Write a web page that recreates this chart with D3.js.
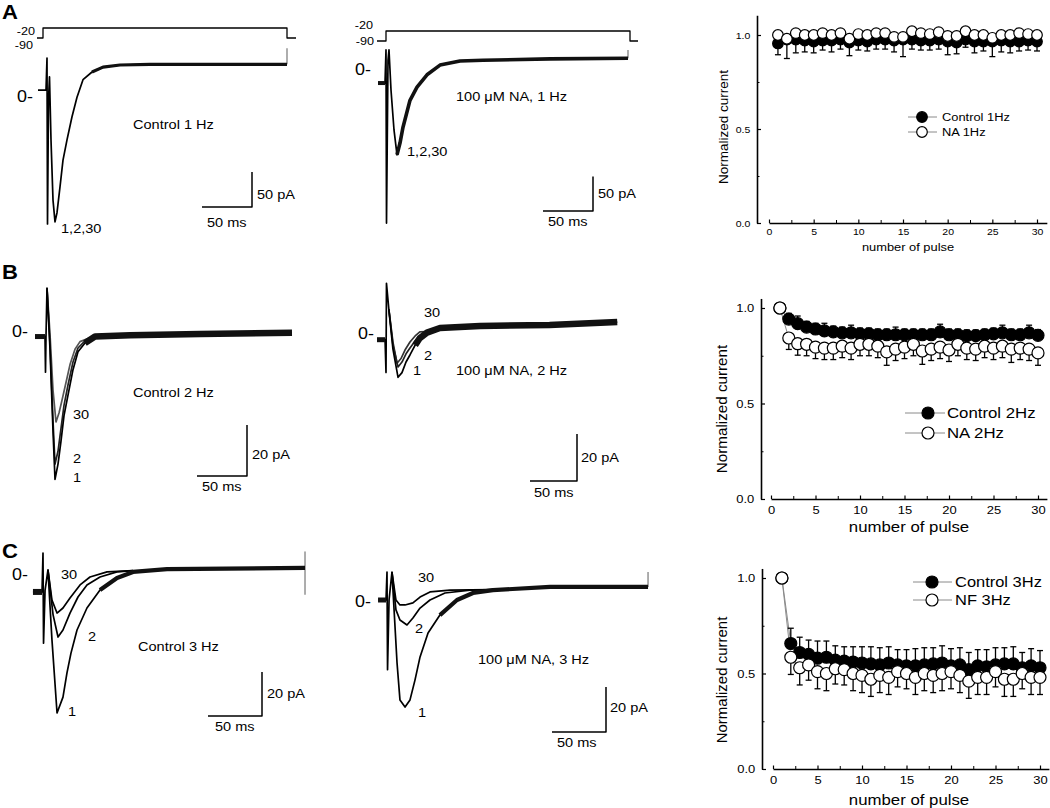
<!DOCTYPE html>
<html><head><meta charset="utf-8">
<script src="https://cdn.jsdelivr.net/npm/d3@7/dist/d3.min.js"></script>
<style>
body{margin:0;background:#fff}
svg{display:block}
text{font-family:"Liberation Sans",Arial,Helvetica,sans-serif;fill:#000}
</style>
</head><body>
<svg id="c" width="1050" height="808"></svg>
<script>
// ---------------- DATA ----------------
const pulses = [1,2,3,4,5,6,7,8,9,10,11,12,13,14,15,16,17,18,19,20,21,22,23,24,25,26,27,28,29,30];
const xTicks = [0,5,10,15,20,25,30];
const yTicks = [0,0.5,1];

const ctrl1Hz    = [0.955,0.975,0.975,0.97,0.965,0.97,0.97,0.975,0.96,0.97,0.965,0.975,0.975,0.97,0.975,0.975,0.97,0.97,0.975,0.965,0.96,0.975,0.965,0.965,0.965,0.97,0.965,0.965,0.97,0.965];
const ctrl1HzErr = [0.06,0.1,0.07,0.06,0.06,0.05,0.06,0.05,0.07,0.05,0.05,0.05,0.05,0.06,0.09,0.05,0.05,0.05,0.05,0.07,0.06,0.04,0.06,0.05,0.08,0.06,0.06,0.05,0.05,0.05];
const na1Hz      = [1.0,0.98,1.01,1.0,1.0,1.01,1.0,1.01,0.98,1.005,1.0,1.01,1.01,0.99,0.99,1.02,1.01,1.005,1.015,0.995,0.995,1.02,1.0,1.0,0.985,1.0,1.0,1.01,1.005,1.0];
const na1HzErr   = [0.01,0.02,0.01,0.01,0.01,0.01,0.01,0.01,0.02,0.01,0.01,0.01,0.01,0.02,0.02,0.01,0.01,0.01,0.01,0.02,0.01,0.01,0.01,0.01,0.02,0.01,0.01,0.01,0.01,0.01];

const ctrl2Hz    = [1.0,0.942,0.918,0.90,0.89,0.88,0.875,0.87,0.87,0.865,0.865,0.86,0.86,0.86,0.86,0.86,0.86,0.86,0.875,0.86,0.86,0.855,0.855,0.86,0.865,0.87,0.86,0.86,0.87,0.857];
const ctrl2HzErr = [0,0.03,0.04,0.03,0.03,0.04,0.03,0.03,0.04,0.03,0.03,0.03,0.03,0.04,0.03,0.03,0.03,0.03,0.04,0.03,0.03,0.03,0.03,0.03,0.03,0.04,0.03,0.03,0.04,0.03];
const na2Hz      = [1.0,0.843,0.813,0.81,0.795,0.79,0.79,0.80,0.79,0.81,0.81,0.80,0.77,0.785,0.795,0.81,0.775,0.785,0.795,0.78,0.81,0.79,0.785,0.80,0.79,0.80,0.785,0.79,0.785,0.765];
const na2HzErr   = [0,0.06,0.06,0.06,0.06,0.06,0.06,0.06,0.06,0.06,0.06,0.06,0.07,0.06,0.06,0.06,0.07,0.06,0.06,0.06,0.06,0.06,0.06,0.06,0.06,0.06,0.07,0.06,0.06,0.065];

const ctrl3Hz    = [1.0,0.657,0.61,0.60,0.58,0.585,0.57,0.565,0.56,0.555,0.55,0.545,0.555,0.545,0.54,0.54,0.545,0.55,0.555,0.54,0.545,0.52,0.54,0.535,0.545,0.55,0.55,0.53,0.54,0.53];
const ctrl3HzErr = [0,0.08,0.08,0.075,0.09,0.085,0.075,0.075,0.08,0.085,0.09,0.09,0.085,0.08,0.085,0.09,0.09,0.085,0.09,0.09,0.09,0.09,0.085,0.09,0.09,0.085,0.09,0.08,0.09,0.09];
const nf3Hz      = [1.0,0.585,0.53,0.545,0.51,0.50,0.525,0.52,0.50,0.49,0.47,0.49,0.48,0.51,0.50,0.48,0.50,0.49,0.50,0.51,0.49,0.46,0.48,0.48,0.51,0.47,0.47,0.50,0.48,0.48];
const nf3HzErr   = [0,0.09,0.09,0.08,0.09,0.09,0.08,0.08,0.09,0.09,0.09,0.09,0.09,0.08,0.08,0.09,0.09,0.09,0.09,0.09,0.09,0.09,0.09,0.09,0.08,0.09,0.09,0.08,0.09,0.09];

// current traces: [time ms, current pA]
const traceA1 = [[-5,4],[3,4],[4,50],[4.5,-187],[5.5,-10],[6.5,23],[8,-67],[10,-153],[12,-184],[14,-171],[17,-134],[20,-96],[24,-67],[29,-34],[34,-6],[40,19],[49,30],[60,37],[77,40],[107,41],[157,41],[200,41],[244,41],[244,64]];
const traceA2 = [[-8,-16],[-1,-16],[0,32],[0.5,-219],[2,17],[3,32],[5,-26],[8,-84],[11,-120],[14,-103],[17,-80],[24,-41],[31,-22],[41,-4],[54,10],[74,16],[97,17],[164,19],[242,20],[242,32]];
const traceB1_1  = [[-11,-1],[-1,-1],[-0.5,-15],[0,-1],[1,18],[4,-6],[7,-38],[9,-57],[12,-51],[15,-42],[18,-32],[22,-24],[27,-14],[32,-7],[39,-3.5],[49,-1],[84,-0.5],[154,0],[246,0.5]];
const traceB1_2  = [[1,18],[4,-4],[7,-34],[9,-51],[12,-46],[15,-37],[18,-28],[22,-20],[27,-11],[32,-5.5],[39,-2.7],[49,-1],[84,-0.5]];
const traceB1_30 = [[1,18],[4,0],[7,-22],[10,-34.5],[13,-31],[16,-26],[20,-19],[24,-12],[29,-6],[34,-3],[44,-1.5],[84,-0.5]];
const traceB2_1  = [[-9.6,-2],[-1,-2],[0,-16],[0.5,22],[3,11],[7.4,-6],[12.8,-18],[17,-16],[21.3,-11.5],[25.5,-8.5],[31,-4.3],[36,-1.3],[43.6,1],[57.4,3],[100,3.8],[174,4.3],[246,5.5]];
const traceB2_2  = [[3,11],[7.4,-4.3],[12.8,-13.6],[17,-11.5],[21.3,-8],[25.5,-5.5],[31,-2.6],[36,-0.4],[43.6,1]];
const traceB2_30 = [[3,11],[7.4,-3],[11.7,-12],[16,-10],[20.2,-6.4],[25.5,-3],[31,-0.4],[36,1.3],[43.6,1.5]];
const traceC1_1  = [[-9.3,-7.7],[-0.9,-7.7],[0,10],[0.5,-31],[1.9,-7],[4.6,2.3],[8.3,-29.5],[13,-62.7],[18.5,-55.5],[22.2,-44.5],[25.9,-35.5],[31.5,-25],[40.7,-15],[52.8,-6.8],[68.5,-1.4],[83.3,1.4],[114.8,2.7],[242.6,3.2],[242.6,10.5],[242.6,-9]];
const traceC1_2  = [[4.6,2.3],[9.3,-18],[13.9,-28.2],[18.5,-25],[25,-17.3],[32.4,-10],[40.7,-4.5],[52.8,-0.9],[68.5,1.4],[83.3,2]];
const traceC1_30 = [[4.6,2.3],[8.3,-11.4],[13,-17.3],[18.5,-15],[25,-10.5],[34.3,-4.5],[43.5,-0.9],[59.3,1.4],[83.3,2]];
const traceC2_1  = [[-8.3,0],[-0.9,0],[0,12.4],[0.5,-31],[1.9,0],[4.6,12.4],[9.3,-28],[12,-44.4],[16.7,-47.6],[21.3,-44.4],[25.9,-35.6],[30.6,-25.3],[38,-14.7],[49,-6.7],[64.8,0],[79.6,3.1],[98,4.4],[151,5.8],[241.7,5.8],[241.7,12.4]];
const traceC2_2  = [[4.6,12.4],[8.3,-4.4],[12,-8.9],[18.5,-11.1],[24,-8],[30.6,-3.6],[39.8,0],[53.7,3.1],[76.9,4.4],[98,4.6]];
const traceC2_30 = [[4.6,12.4],[8.3,0],[12,-2.2],[16.7,-2.2],[24,-1.3],[30.6,1.3],[39.8,3.6],[58.3,4.4],[98,4.6]];

// voltage protocols: [time ms, mV]
const protoA1 = [[-6,-90],[0,-90],[0,-20],[244,-20],[244,-90],[253,-90]];
const protoA2 = [[-9,-90],[0,-90],[0,-20],[244,-20],[244,-90],[252,-90]];

// ---------------- DRAWING ----------------
const SX = 1.12;
const svg = d3.select('#c');

function label(x, y, s, size, opt = {}) {
  return svg.append('text')
    .attr('transform', `translate(${x},${y}) scale(${opt.sx ?? SX},1)` + (opt.rot ? ` rotate(${opt.rot})` : ''))
    .attr('font-size', size)
    .attr('text-anchor', opt.anchor || 'start')
    .attr('dominant-baseline', opt.base || 'central')
    .attr('font-weight', opt.weight || 'normal')
    .text(s);
}

label(2, 19, 'A', 21, {weight: 'bold', base: 'auto', sx: 1.05});
label(2, 279, 'B', 21, {weight: 'bold', base: 'auto', sx: 1.05});
label(2, 558, 'C', 21, {weight: 'bold', base: 'auto', sx: 1.05});

const tracePanels = [
  {sweeps: [[traceA1, '#000']], x0: 43, y0: 93, kx: 1, ky: 0.7, tPlat: 45, band: 3.2, pre: 3,
   proto: protoA1, vRange: [38, 28], vLab: [[35, 31, '-20'], [33, 45, '-90']],
   bar: [252, 207, 50], zero: [17, 97],
   texts: [[133, 125, 'Control 1 Hz'], [61, 229, '1,2,30'], [257, 195, '50 pA'], [207, 223, '50 ms']]},
  {sweeps: [[traceA2, '#000']], x0: 386, y0: 72, kx: 1, ky: 0.69, tPlat: 11, band: 3.6, pre: 4,
   proto: protoA2, vRange: [41, 31], vLab: [[373, 25, '-20'], [374, 41, '-90']],
   bar: [593, 211, 50], zero: [355, 70],
   texts: [[456, 97, '100 \u03BCM NA, 1 Hz'], [407, 152, '1,2,30'], [598, 194, '50 pA'], [548, 222, '50 ms']]},
  {sweeps: [[traceB1_30, '#555'], [traceB1_2, '#222'], [traceB1_1, '#000']], x0: 46, y0: 334, kx: 1, ky: 2.55, tPlat: 39, band: 6.5, pre: 5,
   bar: [247, 476, 20], zero: [12, 332],
   texts: [[133, 393, 'Control 2 Hz'], [73, 415, '30'], [73, 459, '2'], [73, 478, '1'], [252, 455, '20 pA'], [202, 487, '50 ms']]},
  {sweeps: [[traceB2_30, '#333'], [traceB2_2, '#222'], [traceB2_1, '#000']], x0: 386, y0: 335, kx: 0.94, ky: 2.35, tPlat: 31, band: 6.5, pre: 5,
   bar: [577, 481, 20], zero: [358, 334],
   texts: [[456, 371, '100 \u03BCM NA, 2 Hz'], [424, 313, '30'], [424, 356, '2'], [413, 371, '1'], [581, 458, '20 pA'], [534, 493, '50 ms']]},
  {sweeps: [[traceC1_30, '#000'], [traceC1_2, '#000'], [traceC1_1, '#000']], x0: 43, y0: 575, kx: 1.08, ky: 2.2, tPlat: 52, band: 4.2, pre: 6,
   bar: [262, 716, 20], zero: [12, 575],
   texts: [[138, 647, 'Control 3 Hz'], [61, 575, '30'], [88, 637, '2'], [68, 712, '1'], [267, 694, '20 pA'], [215, 727, '50 ms']]},
  {sweeps: [[traceC2_30, '#000'], [traceC2_2, '#000'], [traceC2_1, '#000']], x0: 387, y0: 600, kx: 1.08, ky: 2.25, tPlat: 49, band: 4.2, pre: 5,
   bar: [606, 732, 20], zero: [355, 602],
   texts: [[478, 660, '100 \u03BCM NA, 3 Hz'], [418, 578, '30'], [415, 629, '2'], [418, 713, '1'], [610, 708, '20 pA'], [557, 743, '50 ms']]}
];

tracePanels.forEach(p => {
  const x = d3.scaleLinear().domain([0, 1]).range([p.x0, p.x0 + p.kx]);
  const y = d3.scaleLinear().domain([0, 1]).range([p.y0, p.y0 - p.ky]);
  const line = d3.line().x(d => x(d[0])).y(d => y(d[1]));
  const g = svg.append('g').attr('fill', 'none').attr('stroke-linejoin', 'round');

  if (p.proto) {
    const vy = d3.scaleLinear().domain([-90, -20]).range(p.vRange);
    g.append('path').datum(p.proto)
      .attr('d', d3.line().x(d => x(d[0])).y(d => vy(d[1])))
      .attr('stroke', '#000').attr('stroke-width', 1.3);
    p.vLab.forEach(v => label(v[0], v[1], v[2], 11.3, {anchor: 'end'}));
  }

  const main = p.sweeps[p.sweeps.length - 1][0];
  const tMax = d3.max(main, d => d[0]);
  const iEnd = main.findIndex(d => d[0] === tMax);
  const iStart = main.findIndex(d => d[0] >= p.tPlat);

  // end-of-pulse artefact (thin grey)
  g.append('path').datum(main.slice(iEnd)).attr('d', line)
    .attr('stroke', '#777').attr('stroke-width', 1.2);

  p.sweeps.forEach(([data, col], k) => {
    const d = (k === p.sweeps.length - 1) ? main.slice(0, iEnd + 1) : data;
    g.append('path').datum(d).attr('d', line)
      .attr('stroke', col).attr('stroke-width', 1.7);
  });
  // noisy plateau band & noisy pre-pulse baseline
  g.append('path').datum(main.slice(iStart, iEnd + 1))
    .attr('d', line).attr('stroke', '#111').attr('stroke-width', p.band);
  g.append('path').datum(main.filter(d => d[0] < -0.8))
    .attr('d', line).attr('stroke', '#111').attr('stroke-width', p.pre);

  // scale bar
  const [bx, by, pA] = p.bar;
  const w = x(50) - x(0), h = y(0) - y(pA);
  g.append('path').attr('d', `M${bx - w},${by}H${bx}V${by - h}`)
    .attr('stroke', '#000').attr('stroke-width', 1.5);

  label(p.zero[0], p.zero[1], '0-', 16);
  p.texts.forEach(t => label(t[0], t[1], t[2], 13));
});

// ---------------- rate plots ----------------
const ratePlots = [
  {ax: 757, x0: 769, x30: 1037, xEnd: 31.1, yb: 223, y1: 35, ytop: 1.105, r: 5.3, tick: 9.4, xPad: 5,
   xt: 11.5, yt: 13.5, lg: 11.5, xTitle: [908, 247], yTitle: [723, 127],
   legend: {x1: 908, x2: 937, xm: 922, xt: 942, y: [117, 132]},
   s1: [ctrl1Hz, ctrl1HzErr, 'Control 1Hz', 'down'], s2: [na1Hz, na1HzErr, 'NA 1Hz', 'up']},
  {ax: 761, x0: 771, x30: 1038, xEnd: 31.0, yb: 499, y1: 308, ytop: 1.05, r: 6, tick: 11.6, xPad: 6.5,
   xt: 15, yt: 15.2, lg: 15, xTitle: [909, 527], yTitle: [721, 409],
   legend: {x1: 905, x2: 945, xm: 928, xt: 947, y: [413, 433]},
   s1: [ctrl2Hz, ctrl2HzErr, 'Control 2Hz', 'up'], s2: [na2Hz, na2HzErr, 'NA 2Hz', 'down']},
  {ax: 762, x0: 773, x30: 1040, xEnd: 31.0, yb: 769, y1: 578, ytop: 1.05, r: 6, tick: 11.6, xPad: 6.5,
   xt: 15, yt: 15, lg: 14.7, xTitle: [909, 800], yTitle: [721, 680],
   legend: {x1: 913, x2: 952, xm: 932, xt: 955, y: [582, 600]},
   s1: [ctrl3Hz, ctrl3HzErr, 'Control 3Hz', 'up'], s2: [nf3Hz, nf3HzErr, 'NF 3Hz', 'down']}
];

ratePlots.forEach(c => {
  const pxPerX = (c.x30 - c.x0) / 30;
  const x = d3.scaleLinear().domain([0, c.xEnd]).range([c.x0, c.x0 + pxPerX * c.xEnd]);
  const pxPerY = c.yb - c.y1;
  const y = d3.scaleLinear().domain([0, c.ytop]).range([c.yb, c.yb - pxPerY * c.ytop]);

  const ya = svg.append('g').attr('transform', `translate(${c.ax},0)`)
    .call(d3.axisLeft(y).tickValues(yTicks).tickFormat(d3.format('.1f')).tickSizeInner(-4).tickSizeOuter(0).tickPadding(6));
  ya.select('.domain').attr('stroke-width', 1.6);
  ya.selectAll('.tick line').attr('stroke-width', 1.2);
  ya.selectAll('.tick text').attr('font-size', c.tick).attr('font-family', null)
    .attr('transform', `scale(${SX},1)`);
  const ym = svg.append('g').attr('transform', `translate(${c.ax},0)`)
    .call(d3.axisLeft(y).tickValues([0.25, 0.75]).tickFormat('').tickSizeInner(-2.5).tickSizeOuter(0));
  ym.select('.domain').remove();
  ym.selectAll('.tick line').attr('stroke-width', 1);

  const xa = svg.append('g').attr('transform', `translate(0,${c.yb})`)
    .call(d3.axisBottom(x).tickValues(xTicks).tickSizeInner(-3.5).tickSizeOuter(0).tickPadding(c.xPad));
  xa.select('.domain').attr('stroke-width', 1.6);
  xa.selectAll('.tick line').attr('stroke-width', 1.2);
  xa.selectAll('.tick text').attr('font-size', c.tick).attr('font-family', null)
    .attr('transform', `scale(${SX},1)`);
  const xm = svg.append('g').attr('transform', `translate(0,${c.yb})`)
    .call(d3.axisBottom(x).tickValues([2.5, 7.5, 12.5, 17.5, 22.5, 27.5]).tickFormat('').tickSizeInner(-3).tickSizeOuter(0));
  xm.select('.domain').remove();
  xm.selectAll('.tick line').attr('stroke-width', 1);

  label(c.xTitle[0], c.xTitle[1], 'number of pulse', c.xt, {anchor: 'middle'});
  label(c.yTitle[0], c.yTitle[1], 'Normalized current', c.yt, {anchor: 'middle', rot: -90, sx: 1});

  const g = svg.append('g');
  const conn = d3.line().x((d, i) => x(pulses[i])).y(d => y(d));
  [c.s1, c.s2].forEach(s => {
    g.append('path').datum(s[0]).attr('d', conn).attr('fill', 'none').attr('stroke', '#8a8a8a').attr('stroke-width', 1);
  });
  const drawSeries = (s, fill) => {
    const [vals, errs, , dir] = s;
    const eb = g.append('g').attr('stroke', '#000').attr('stroke-width', 1.3);
    vals.forEach((v, i) => {
      const e = errs[i];
      if (!e) return;
      const xx = x(pulses[i]);
      const end = dir === 'up' ? v + e : v - e;
      eb.append('line').attr('x1', xx).attr('x2', xx).attr('y1', y(v)).attr('y2', y(end));
      eb.append('line').attr('x1', xx - 3).attr('x2', xx + 3).attr('y1', y(end)).attr('y2', y(end));
    });
    g.append('g').selectAll('circle').data(vals).join('circle')
      .attr('cx', (d, i) => x(pulses[i])).attr('cy', d => y(d)).attr('r', c.r)
      .attr('fill', fill).attr('stroke', '#000').attr('stroke-width', 1.2);
  };
  drawSeries(c.s1, '#000');
  drawSeries(c.s2, '#fff');

  const L = c.legend;
  [[c.s1, '#000'], [c.s2, '#fff']].forEach(([s, fill], k) => {
    const yy = L.y[k];
    svg.append('line').attr('x1', L.x1).attr('x2', L.x2).attr('y1', yy).attr('y2', yy)
      .attr('stroke', '#8a8a8a').attr('stroke-width', 1);
    svg.append('circle').attr('cx', L.xm).attr('cy', yy).attr('r', c.r)
      .attr('fill', fill).attr('stroke', '#000').attr('stroke-width', 1.2);
    label(L.xt, yy, s[2], c.lg);
  });
});
</script>
</body></html>
